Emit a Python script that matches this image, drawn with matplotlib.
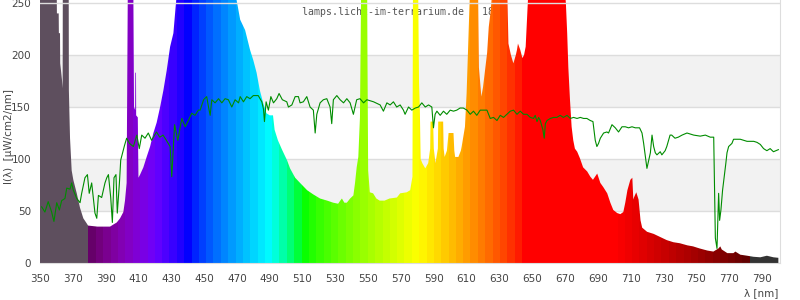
import numpy as np
import matplotlib
matplotlib.use("Agg")
import matplotlib.pyplot as plt
from matplotlib.patches import Polygon

# lamp spectrum (nm, uW/cm2/nm) - values above 250 are off scale
lamp_nm = [350, 360.2, 360.3, 361.4, 361.5, 362.2, 362.3, 362.8, 363.4, 363.8, 363.9, 367.5,
           367.6, 368.3, 369.3, 370.3, 372.4, 374.4, 376.4, 378.5, 379.3, 385, 392.7, 394.7,
           396.8, 398.8, 400.8, 401.8, 402.8, 403.5, 406.9, 407.3, 408, 408.1, 408.5, 408.6,
           409.6, 410, 411, 413, 415, 417.1, 419.1, 421.1, 423.2, 425.2, 427.2, 429.3, 431.3,
           433.4, 469, 472, 475, 478, 480, 482, 484, 486, 488, 490, 492, 493, 495, 497.5,
           500.5, 502.4, 505.5, 508.5, 512.8, 516.5, 520.7, 525, 528.7, 531.7, 533, 534,
           535.5, 537, 539, 541, 542, 543, 544, 545, 545.7, 549.4, 549.6, 550, 551, 553, 555,
           557, 560, 563, 567.5, 569.5, 573.5, 575.6, 577, 577.3, 580.5, 581, 581.5, 582, 583,
           584.8, 586.6, 587.8, 588, 589.6, 590, 591, 592.5, 592.7, 595.7, 596, 596.6, 598,
           599, 602, 602.5, 603, 605, 606.5, 607, 609, 610, 611, 612, 617, 617.5, 619, 620,
           622.5, 623.5, 624.5, 625.6, 634.8, 635.5, 637, 638.5, 640, 640.7, 641.3, 642.7,
           644, 645, 646, 647.6, 670, 670.5, 671.3, 672, 673, 674, 675, 676, 677.4, 679, 681,
           683.5, 685.4, 687, 689.6, 691.5, 693.3, 695.7, 697.6, 699.4, 701.8, 703.7, 705.5,
           706.7, 708, 709.8, 711, 711.6, 712, 713.4, 714.8, 716, 717, 720, 724, 728, 732,
           736, 740, 744.5, 748, 752, 756.7, 760.4, 763.5, 764.6, 765.5, 768.9, 772.6, 773.8,
           776.8, 781, 784.8, 789, 793, 797, 800]
lamp_val = [260, 260, 240, 240, 221, 221, 192, 185, 176, 168, 260, 260,
            166, 120, 89, 80, 67, 53, 43, 38, 36, 35, 35, 37,
            39, 43, 49, 60, 77, 260, 260, 150, 147, 183, 183, 142,
            140, 82, 85, 92, 102, 112, 125, 135, 150, 166, 185, 208, 221,
            260, 260, 234, 224, 205, 195, 183, 166, 154, 144, 142, 142, 128, 118, 109,
            99, 91, 82, 77, 70, 66, 62, 60, 58, 57, 60, 62,
            58, 58, 62, 65, 77, 92, 102, 140, 260, 260, 193, 89, 68, 67, 62,
            60, 60, 62, 63, 67, 68, 70, 83, 260, 260, 173, 147, 100, 96,
            91, 96, 110, 136, 136, 110, 96, 110, 136, 136, 110, 102, 108,
            125, 125, 108, 102, 102, 108, 112, 131, 163, 211, 260, 260, 188, 160, 169,
            202, 227, 240, 260, 260, 211, 200, 192, 200, 205, 211, 205,
            197, 200, 208, 260, 260, 250, 221, 188, 157, 131, 118, 110, 107, 101, 92,
            88, 83, 80, 86, 77, 73, 67, 58, 51, 48, 47, 49,
            58, 70, 80, 82, 61, 63, 68, 61, 41, 34, 30, 28, 25, 22,
            20, 19, 17, 16, 14, 12, 11, 14, 16, 13, 9.5, 9.5, 11,
            8, 7, 6, 5.5, 7, 5.5, 5]

# reference (green line)
ref_nm = [351, 353, 355, 357.1, 358.5, 360.2, 361.8, 363.2, 365.2, 366.3, 368.3, 369.3, 370.3,
          372.4, 374.4, 375.4, 377.4, 378.9, 380, 381.5, 383.5, 384.6, 385.6, 387.6, 389.6,
          390.7, 391.7, 393.1, 394.1, 395.1, 396.3, 397.1, 398.4, 399.2, 401.5, 402.8, 404.5,
          406.9, 409, 410.5, 412, 414, 416, 418, 421, 423, 425, 427, 429.3, 430.3, 432, 434,
          436.4, 438.5, 440.4, 442.5, 444.5, 446.5, 447.6, 449.7, 451.6, 452.7, 453.7, 454.7,
          456.7, 458.8, 460.8, 462.8, 464.8, 466.9, 468.9, 471, 472, 474, 476, 478, 480,
          483, 485.2, 486.2, 486.8, 487.8, 489.2, 490.7, 492.3, 494.3, 495.7, 497.7, 500.4,
          501.4, 503.5, 505.5, 507.5, 508.5, 510.5, 512.6, 514.6, 516.6, 517.7, 518.7, 520.7,
          522.7, 524.8, 526.8, 527.8, 528.8, 530.9, 532.9, 535, 537, 539, 541, 543, 545,
          547.2, 549.2, 553.3, 557.3, 559.3, 561.4, 563.4, 565.4, 567.4, 569.5, 571.5, 572.5,
          574.6, 576.6, 578.7, 580.7, 582.7, 584.8, 586.8, 588.8, 589.8, 590.8, 591.9, 593.9,
          595.9, 597.9, 600, 602, 604, 606, 608, 610.2, 612.2, 614.2, 616.2, 618.3, 620.3,
          622.4, 624.4, 626.4, 628.5, 630.5, 632.5, 634.6, 636.6, 638.6, 640.7, 642.7, 644.7,
          646.8, 648.8, 650.8, 651.8, 652.9, 653.9, 654.9, 656.5, 657.3, 658, 659, 661, 663,
          665, 667, 669, 671.2, 673.2, 675.2, 677.3, 679.3, 681.3, 683.3, 685.4, 687, 688.4,
          689.4, 690.4, 691.5, 693.5, 695.5, 696.5, 698.6, 700.6, 702.6, 704.7, 706.7, 708.7,
          710.8, 712.8, 715.4, 716.9, 717.9, 719.9, 722, 723, 724, 725, 726, 728, 729, 730,
          731, 732, 734, 735, 737, 739, 741.3, 744.3, 748.4, 752.4, 755.5, 758.5, 760.6,
          761.1, 761.6, 762.6, 763.6, 764.2, 765, 766, 767, 768, 768.7, 769.7, 771.7, 772.7,
          776.8, 780.9, 785, 787, 789, 791, 793, 795, 797, 800]
ref_val = [54, 49, 59, 49, 40, 58, 51, 60, 62, 72, 71, 77, 70,
           62, 58, 67, 82, 85, 67, 77, 48, 43, 65, 63, 77,
           82, 85, 63, 39, 82, 85, 48, 77, 99, 113, 120, 115,
           112, 123, 110, 123, 120, 125, 118, 126, 121, 123, 118, 112, 83, 133, 118,
           139, 131, 137, 144, 142, 147, 147, 157, 160, 150, 142, 157,
           154, 158, 154, 158, 157, 150, 157, 154, 160, 155, 160, 158, 161,
           161, 155, 148, 136, 155, 147, 160, 154, 158, 163, 157, 155,
           150, 152, 160, 160, 154, 155, 160, 150, 147, 125, 143, 154,
           157, 158, 150, 134, 157, 161, 157, 154, 158, 154, 143, 157, 158,
           154, 157, 155, 152, 146, 154, 152, 155, 150, 152, 147, 143,
           150, 147, 149, 150, 154, 150, 152, 150, 130, 143, 146, 142,
           146, 143, 147, 146, 147, 149, 149, 147, 143, 146, 142, 147, 147,
           147, 139, 140, 137, 142, 140, 143, 146, 147, 143, 146, 143,
           143, 140, 139, 142, 136, 140, 137, 128, 120, 134, 137, 139, 140,
           140, 142, 140, 142, 139, 140, 139, 140, 139, 139, 137, 136, 118,
           112, 115, 120, 125, 126, 125, 133, 130, 126, 131, 131, 130,
           131, 130, 130, 125, 115, 91, 106, 123, 112, 106, 104, 107, 104, 106,
           108, 112, 123, 123, 120, 121, 123, 125, 123, 122, 123, 121, 121,
           73, 24, 14, 67, 41, 51, 70, 83, 96, 106, 112, 115, 119,
           119, 117, 117, 116, 114, 110, 108, 110, 107, 109]

y_ticks = [0, 50, 100, 150, 200, 250]
x_ticks = list(range(350, 800, 20))


def wl_rgb(w):
    # approximate colour of a wavelength (Bruton)
    if w < 379.5:
        return (0.37, 0.31, 0.37)
    if w > 782:
        return (0.2, 0.2, 0.2)
    if w < 440:
        r, g, b = (440 - w) / 60, 0, 1
    elif w < 490:
        r, g, b = 0, (w - 440) / 50, 1
    elif w < 510:
        r, g, b = 0, 1, (510 - w) / 20
    elif w < 580:
        r, g, b = (w - 510) / 70, 1, 0
    elif w < 645:
        r, g, b = 1, (645 - w) / 65, 0
    else:
        r, g, b = 1, 0, 0
    if w < 420:
        f = 0.3 + 0.7 * (w - 380) / 40
    elif w > 700:
        f = 0.3 + 0.7 * (780 - w) / 80
    else:
        f = 1.0
    return tuple((max(c, 0) * f) ** 0.8 for c in (r, g, b))


fig = plt.figure(figsize=(8, 3), dpi=100)
ax = fig.add_axes([0.05, 0.1233, 0.925, 1 - 0.1233])
ax.set_xlim(350, 801)
ax.set_ylim(0, 252.9)

ax.axhspan(50, 100, color="#f2f2f2", zorder=0, lw=0)
ax.axhspan(150, 200, color="#f2f2f2", zorder=0, lw=0)
for yv in y_ticks[:-1]:
    ax.axhline(yv, color="#dddddd", lw=1, zorder=0.5)

ax.text(509.8, 241, "lamps.licht-im-terrarium.de > 182", family="DejaVu Sans Mono",
        fontsize=7.1, color="#555555", ha="left", va="center", zorder=1)

# coloured spectrum, clipped to lamp curve
cols = np.arange(350, 801, 0.25)
band = 4.47
rgb = []
for w in cols:
    if 379.5 <= w <= 782:
        w = 379.5 + (np.floor((w - 379.5) / band) + 0.5) * band
    rgb.append(wl_rgb(w))
img = np.array(rgb)[None, :, :]
verts = list(zip(lamp_nm, lamp_val)) + [(800, 0), (350, 0)]
poly = Polygon(verts, closed=True, facecolor="none", edgecolor="none")
ax.add_patch(poly)
im = ax.imshow(img, extent=(350, 801, 0, 260), aspect="auto", interpolation="nearest",
               zorder=2)
im.set_clip_path(poly)

ax.plot(ref_nm, ref_val, color="#008c00", lw=0.8, zorder=3)
ax.axhline(250, color="#dddddd", lw=1, zorder=4)

for s in ["left", "top"]:
    ax.spines[s].set_visible(False)
ax.spines["right"].set_color("#dddddd")
ax.spines["bottom"].set_color("#dddddd")
ax.spines["right"].set_zorder(4)

ax.set_xticks(x_ticks)
ax.set_yticks(y_ticks)
ax.tick_params(axis="x", length=0, pad=8, labelsize=7.5, labelcolor="#444444")
ax.tick_params(axis="y", length=0, pad=6.5, labelsize=7.5, labelcolor="#444444")

fig.text(9 / 800, 1 - 137 / 300, "I(λ)  [µW/cm2/nm]", rotation=90, ha="center",
         va="center", fontsize=7.5, color="#444444")
fig.text(778 / 800, 1 - 293 / 300, "λ [nm]", ha="right", va="center", fontsize=7.5,
         color="#444444")

fig.savefig("out.png", dpi=100)
